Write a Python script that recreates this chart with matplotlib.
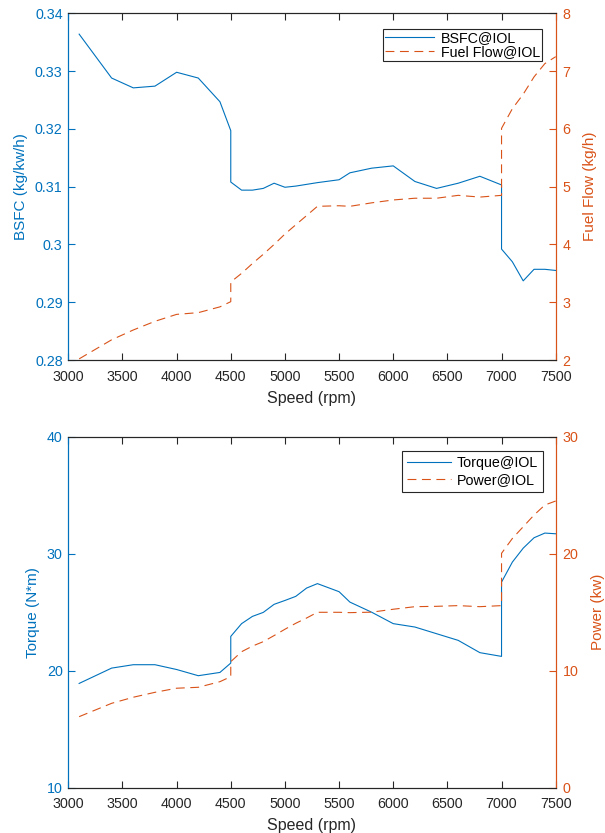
import matplotlib
matplotlib.use("Agg")
import matplotlib.pyplot as plt
from matplotlib.ticker import FuncFormatter

plt.rcParams['font.family'] = ['Liberation Sans', 'DejaVu Sans']

# ---- data ----
speed = [3100, 3400, 3600, 3800, 4000, 4200, 4400, 4500, 4500, 4600, 4700, 4800, 4900,
         5000, 5100, 5200, 5300, 5500, 5600, 5800, 6000, 6200, 6400, 6600, 6800,
         7000, 7000, 7100, 7200, 7300, 7400, 7500]
bsfc = [0.3364, 0.3288, 0.3271, 0.3274, 0.3298, 0.3288, 0.3247, 0.3197, 0.3108, 0.3094,
        0.3094, 0.3097, 0.3106, 0.3099, 0.3101, 0.3104, 0.3107, 0.3112, 0.3124, 0.3132,
        0.3136, 0.3109, 0.3097, 0.3106, 0.3118, 0.3103, 0.2992, 0.2970, 0.2937, 0.2957,
        0.2957, 0.2955]
fuel_flow = [2.02, 2.35, 2.52, 2.67, 2.79, 2.82, 2.92, 3.01, 3.35, 3.50, 3.67, 3.83, 4.00,
             4.18, 4.34, 4.50, 4.66, 4.67, 4.66, 4.72, 4.77, 4.80, 4.80, 4.85, 4.82,
             4.85, 6.01, 6.35, 6.60, 6.90, 7.13, 7.25]
torque = [18.91, 20.22, 20.51, 20.51, 20.10, 19.57, 19.85, 20.65, 22.93, 24.02, 24.64,
          24.98, 25.67, 26.00, 26.35, 27.06, 27.44, 26.75, 25.86, 25.00, 24.02, 23.73,
          23.16, 22.59, 21.54, 21.22, 27.57, 29.28, 30.47, 31.36, 31.76, 31.70]
power = [6.07, 7.21, 7.73, 8.15, 8.50, 8.58, 9.06, 9.49, 10.77, 11.62, 12.10, 12.48, 13.00,
         13.54, 14.05, 14.50, 14.99, 14.99, 14.96, 15.00, 15.25, 15.47, 15.50, 15.56,
         15.47, 15.56, 20.03, 21.30, 22.30, 23.30, 24.16, 24.50]

xticks = [3000, 3500, 4000, 4500, 5000, 5500, 6000, 6500, 7000, 7500]
bsfc_ticks = [0.28, 0.29, 0.30, 0.31, 0.32, 0.33, 0.34]
ff_ticks = [2, 3, 4, 5, 6, 7, 8]
torque_ticks = [10, 20, 30, 40]
power_ticks = [0, 10, 20, 30]

BLUE = '#0072BD'
ORANGE = '#D95319'
DARK = '#262626'
FS = 10.3
LFS = 11.5

fig = plt.figure(figsize=(6.05, 8.33), dpi=100)

fmt = FuncFormatter(lambda v, p: '%g' % round(v, 4))


def style(ax, ax2, yl_ticks, yr_ticks, ylab, yrlab):
    ax.set_xlim(3000, 7500)
    ax.set_xticks(xticks)
    ax.set_yticks(yl_ticks)
    ax.set_ylim(yl_ticks[0], yl_ticks[-1])
    ax2.set_yticks(yr_ticks)
    ax2.set_ylim(yr_ticks[0], yr_ticks[-1])
    ax.yaxis.set_major_formatter(fmt)
    ax2.yaxis.set_major_formatter(fmt)
    ax.tick_params(axis='x', direction='in', top=True, length=5, width=0.8,
                   colors=DARK, labelsize=FS, pad=7)
    ax.tick_params(axis='y', direction='in', length=5, width=0.8, colors=BLUE,
                   labelsize=FS, pad=4)
    ax2.tick_params(axis='y', direction='in', length=5, width=0.8, colors=ORANGE,
                    labelsize=FS, pad=5)
    for a in (ax, ax2):
        a.spines['left'].set_color(BLUE)
        a.spines['right'].set_color(ORANGE)
        a.spines['top'].set_color(DARK)
        a.spines['bottom'].set_color(DARK)
        for s in a.spines.values():
            s.set_linewidth(0.8)
    ax.set_xlabel('Speed (rpm)', fontsize=LFS, color=DARK, labelpad=5)
    ax.set_ylabel(ylab, fontsize=11, color=BLUE, labelpad=5)
    ax2.set_ylabel(yrlab, fontsize=11, color=ORANGE, labelpad=9)


dash = (0, (8, 5))

# ---- top ----
ax1 = fig.add_axes([0.1129, 0.5678, 0.8056, 0.4162])
ax1r = ax1.twinx()
l1, = ax1.plot(speed, bsfc, color=BLUE, lw=0.8, label='BSFC@IOL')
l2, = ax1r.plot(speed, fuel_flow, color=ORANGE, lw=0.8, linestyle=dash, label='Fuel Flow@IOL')
style(ax1, ax1r, bsfc_ticks, ff_ticks, 'BSFC (kg/kw/h)', 'Fuel Flow (kg/h)')
leg = ax1r.legend(handles=[l1, l2], loc='upper right', bbox_to_anchor=(0.9725, 0.9547),
                  fontsize=FS, frameon=True, fancybox=False, framealpha=1,
                  edgecolor=DARK, handlelength=3.4, borderpad=0.15, labelspacing=0.0,
                  handletextpad=0.5, borderaxespad=0)
leg.get_frame().set_linewidth(0.8)

# ---- bottom ----
ax2 = fig.add_axes([0.1129, 0.0544, 0.8056, 0.4214])
ax2r = ax2.twinx()
l3, = ax2.plot(speed, torque, color=BLUE, lw=0.8, label='Torque@IOL')
l4, = ax2r.plot(speed, power, color=ORANGE, lw=0.8, linestyle=dash, label='Power@IOL')
style(ax2, ax2r, torque_ticks, power_ticks, 'Torque (N*m)', 'Power (kw)')
leg2 = ax2r.legend(handles=[l3, l4], loc='upper right', bbox_to_anchor=(0.9746, 0.960),
                   fontsize=FS, frameon=True, fancybox=False, framealpha=1,
                   edgecolor=DARK, handlelength=3.1, borderpad=0.35, labelspacing=0.2,
                   handletextpad=0.4, borderaxespad=0)
leg2.get_frame().set_linewidth(0.8)

fig.savefig('out.png', dpi=100)
